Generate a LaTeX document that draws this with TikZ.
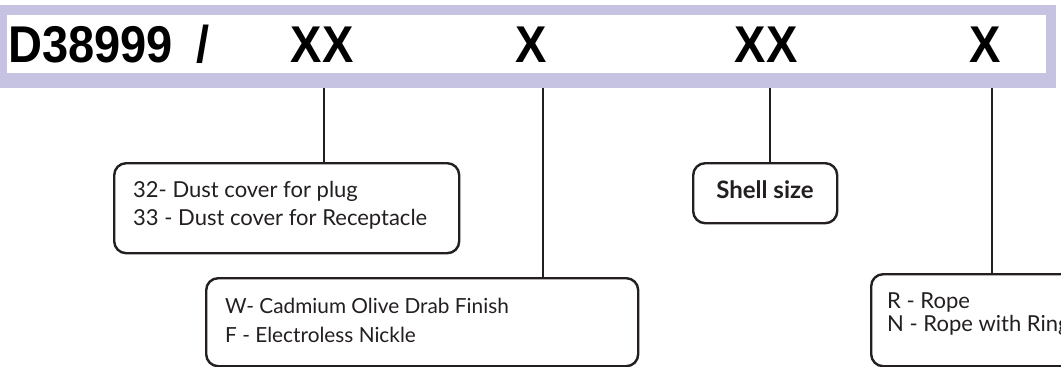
\documentclass[tikz,border=0pt]{standalone}
\usepackage{fontspec}
\setmainfont{Lato}
\newfontfamily\headfont{Liberation Sans}
\definecolor{lav}{RGB}{197,195,225}
\definecolor{ink}{RGB}{35,31,32}
\newcommand\hdrtxt[1]{\scalebox{1}[1.1]{\headfont\bfseries\fontsize{47}{47}\selectfont #1}}
\tikzset{
  conn/.style={draw=ink,line width=2.6pt},
  infobox/.style={draw=ink,line width=2.4pt,rounded corners=12pt,fill=white,inner sep=0pt,anchor=north west},
  hdr/.style={inner sep=0pt,anchor=base},
  txt/.style={inner sep=0pt,anchor=base west,text=ink,font=\fontsize{20.8}{24}\selectfont},
  bigtxt/.style={txt,font=\fontsize{22}{24}\selectfont},
  btxt/.style={inner sep=0pt,anchor=base,text=ink,font=\bfseries\fontsize{24}{26}\selectfont}
}
\begin{document}
\begin{tikzpicture}[x=1pt,y=-1pt]
\useasboundingbox (0,0) rectangle (1061,367);
\clip (0,0) rectangle (1061,367);
\fill[white] (0,0) rectangle (1061,367);
% header band
\fill[lav] (0,5) rectangle (1056,88);
\fill[white] (7,15) rectangle (1046,73);
\node[hdr,anchor=base west] (code) at (8,62) {\hdrtxt{D38999\hspace{24pt}/}};
\node[hdr] (f1) at (322,62) {\hdrtxt{XX}};
\node[hdr] (f2) at (531,62) {\hdrtxt{X}};
\node[hdr] (f3) at (766,62) {\hdrtxt{XX}};
\node[hdr] (f4) at (985,62) {\hdrtxt{X}};
% boxes
\node[infobox,minimum width=345pt,minimum height=90pt] (b1) at (113,162) {};
\node[infobox,minimum width=432pt,minimum height=88pt] (b2) at (205,277) {};
\node[infobox,minimum width=144pt,minimum height=60pt] (b3) at (692,162) {};
\node[infobox,minimum width=250pt,minimum height=92pt] (b4) at (870,273) {};
% connectors
\coordinate (t1) at (324,88);
\coordinate (t2) at (543,88);
\coordinate (t3) at (770,88);
\coordinate (t4) at (992,88);
\draw[conn] (t1) -- (t1 |- b1.north);
\draw[conn] (t2) -- (t2 |- b2.north);
\draw[conn] (t3) -- (t3 |- b3.north);
\draw[conn] (t4) -- (t4 |- b4.north);
% texts
\node[bigtxt] (l1a) at (133,197) {32- Dust cover for plug};
\node[bigtxt] (l1b) at (133,225) {33 - Dust cover for Receptacle};
\node[txt] (l2a) at (225,313) {W- Cadmium Olive Drab Finish};
\node[txt] (l2b) at (225,342) {F - Electroless Nickle};
\node[btxt] (l3) at (765,198) {Shell size};
\node[bigtxt] (l4a) at (887,308) {R - Rope};
\node[bigtxt] (l4b) at (887,331) {N - Rope with Ring};
\end{tikzpicture}
\end{document}
